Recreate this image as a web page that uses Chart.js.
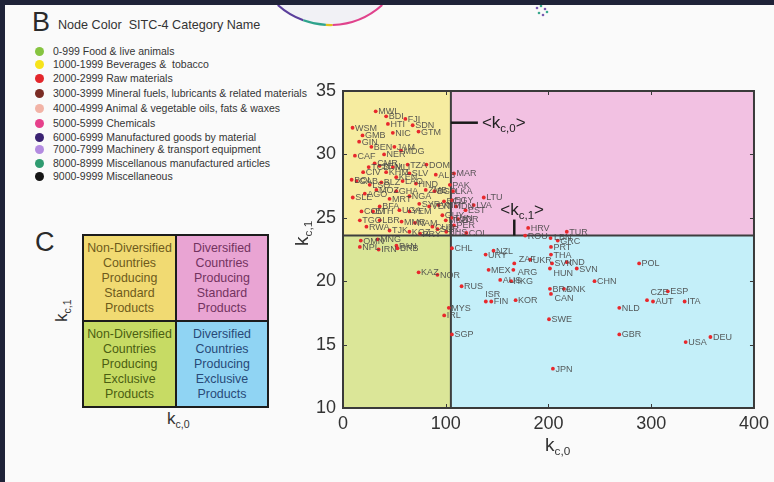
<!DOCTYPE html>
<html>
<head>
<meta charset="utf-8">
<script src="https://cdn.jsdelivr.net/npm/chart.js@4.4.1/dist/chart.umd.min.js"></script>
<style>
  html, body { margin: 0; padding: 0; background: #fafafa; overflow: hidden; }
  #page { position: relative; width: 774px; height: 482px; overflow: hidden; background: #fafafa;
          font-family: "Liberation Sans", Arial, Helvetica, sans-serif; color: #333; }
  #chart { position: absolute; left: 0; top: 0; }
  .bandTop { position: absolute; left: 0; top: 0; width: 774px; height: 5px; background: #1f2338; }
  .bandLeft { position: absolute; left: 0; top: 0; width: 5px; height: 482px; background: #1f2338; }
  .panelLetter { position: absolute; font-size: 27px; line-height: 27px; color: #2a2a2a; }
  .legHead { position: absolute; left: 58px; top: 19px; font-size: 12.6px; line-height: 13px; color: #333; }
  .legRow { position: absolute; left: 35px; height: 12px; }
  .legRow i { position: absolute; left: 0; top: 2px; width: 9px; height: 9px; border-radius: 50%; }
  .legRow span { position: absolute; left: 18px; top: 0px; white-space: nowrap; font-size: 10.5px; line-height: 12px; color: #353535; }
  #quad { position: absolute; left: 82px; top: 234px; width: 187px; height: 174px; background: #1c1c1c; }
  #quad div { position: absolute; display: flex; align-items: center; justify-content: center;
              text-align: center; font-size: 12.4px; line-height: 15px; }
  .ax { position: absolute; white-space: nowrap; color: #333; }
  .ax sub { font-size: 0.62em; vertical-align: -0.35em; line-height: 0; }
</style>
</head>
<body>
<div id="page">
  <!-- network ring peeking in from the figure above -->
  <svg style="position:absolute;left:0;top:0" width="774" height="40">
    <circle cx="330" cy="-53" r="78" fill="#f1f1f5"/>
    <g fill="none" stroke-width="2.2">
      <path d="M277.8,5 A78,78 0 0 0 303.3,20.3" stroke="#5b3f9c"/>
      <path d="M303.3,20.3 A78,78 0 0 0 325.9,24.9" stroke="#2ea38c"/>
      <path d="M325.9,24.9 A78,78 0 0 0 332.7,25" stroke="#e2c21e"/>
      <path d="M332.7,25 A78,78 0 0 0 382.2,5" stroke="#e0428c"/>
    </g>
    <g>
      <circle cx="537" cy="8" r="1.3" fill="#7a5ab0"/>
      <circle cx="541" cy="6" r="1.3" fill="#3aa88e"/>
      <circle cx="545" cy="9" r="1.3" fill="#7a5ab0"/>
      <circle cx="539" cy="13" r="1.3" fill="#3aa88e"/>
      <circle cx="543" cy="15" r="1.3" fill="#7a5ab0"/>
      <circle cx="547" cy="12" r="1.3" fill="#3aa88e"/>
    </g>
  </svg>
  <div class="bandTop"></div>
  <div class="bandLeft"></div>

  <!-- panel B: product category colours -->
  <div class="panelLetter" style="left:32px;top:9px;">B</div>
  <div class="legHead">Node Color&nbsp; SITC-4 Category Name</div>
  <div id="legend"></div>

  <!-- panel C: quadrant key -->
  <div class="panelLetter" style="left:35px;top:229px;">C</div>
  <div id="quad">
    <div style="left:2px;top:2px;width:91px;height:84px;background:#f1da72;color:#6e5a1c;">Non-Diversified<br>Countries<br>Producing<br>Standard<br>Products</div>
    <div style="left:95px;top:2px;width:90px;height:84px;background:#e9a4d3;color:#73335f;">Diversified<br>Countries<br>Producing<br>Standard<br>Products</div>
    <div style="left:2px;top:88px;width:91px;height:84px;background:#c7db64;color:#4b5e12;">Non-Diversified<br>Countries<br>Producing<br>Exclusive<br>Products</div>
    <div style="left:95px;top:88px;width:90px;height:84px;background:#90d4f3;color:#284a78;">Diversified<br>Countries<br>Producing<br>Exclusive<br>Products</div>
  </div>
  <div class="ax" style="left:167px;top:409px;font-size:17px;">k<sub>c,0</sub></div>
  <div class="ax" style="left:52px;top:322px;font-size:17px;transform:rotate(-90deg);transform-origin:left top;">k<sub>c,1</sub></div>

  <canvas id="chart" width="774" height="482"></canvas>

  <!-- axis titles of the scatter -->
  <div class="ax" style="left:545px;top:434px;font-size:19px;">k<sub>c,0</sub></div>
  <div class="ax" style="left:291px;top:246px;font-size:19px;transform:rotate(-90deg);transform-origin:left top;">k<sub>c,1</sub></div>
</div>

<script>
// SITC-4 product groups shown in the colour key
const sitcLabels = [
  "0-999 Food & live animals",
  "1000-1999 Beverages &  tobacco",
  "2000-2999 Raw materials",
  "3000-3999 Mineral fuels, lubricants & related materials",
  "4000-4999 Animal & vegetable oils, fats & waxes",
  "5000-5999 Chemicals",
  "6000-6999 Manufactured goods by material",
  "7000-7999 Machinery & transport equipment",
  "8000-8999 Miscellanous manufactured articles",
  "9000-9999 Miscellaneous"
];
const sitcColors = ["#86c440", "#f6e31a", "#e3262b", "#7a2c24", "#f2b3a6",
                    "#e6408b", "#3a2272", "#b38be0", "#2f9b70", "#151515"];

// countries: diversification k_c,0 and average ubiquity k_c,1
const countries = [
  "CHL","MYS","IRL","SGP","KAZ","NOR","RUS","URY","NZL","MEX","AUS","HKG","ZAF","ARG","UKR",
  "ISR","FIN","KOR","LBN","GRC","PRT","THA","SVK","IND","HUN","SVN","BRA","DNK","CAN","SWE",
  "JPN","CHN","POL","NLD","GBR","CZE","ESP","AUT","ITA","USA","DEU",
  "HRV","ROU","TUR","MAR","PAK","LKA","EGY","IDN","EST","LVA","LTU","TUN","JOR","PER","COL","MKD",
  "MWI","FJI","HTI","SDN","NIC","GTM","WSM","GMB","GIN","BEN","JAM","MDG","CAF","CMR","SEN","MLI",
  "TZA","DOM","ALB","CIV","BOL","GAB","BLZ","KEN","SLV","HND","ZMB","ECU","GUY","AGO","MOZ","GHA",
  "MRT","NGA","SYR","BFA","UGA","VEN","ETH","YEM","LBR","RWA","TJK","KGZ","CUB","PRY","TGO","NER",
  "TCD","LAO","KHM","BGD","VNM","MMR","LSO","SLE","COM","NAM","SUR","BHS","BDI",
  "OMN","MNG","PAN","NPL","IRN","BRB"
];
const kc0 = [
  106, 103, 98.5, 106, 73.6, 91.9, 115.4, 138.8, 146.5, 141.7, 153, 163.6, 166.7, 165.8, 182.2,
  139, 144.3, 168, 202, 209, 202.4, 202.4, 203.4, 217.8, 201.4, 227.5, 201.4, 215, 202.4, 200.5,
  204.3, 244.8, 288.2, 268.9, 268.9, 295.9, 316.1, 301.7, 332.5, 333.5, 357.6,
  180.2, 177.3, 217.8, 108, 104, 107, 106, 110, 119.2, 127.2, 137, 105.5, 112, 108, 120, 100,
  31.8, 60.7, 43.7, 67.8, 48.5, 73.5, 9.3, 19, 15.7, 27.6, 50, 56.5, 11.6, 30.8, 35.6, 48.5,
  62.9, 81.2, 90.3, 19.6, 8.4, 13.2, 37.3, 51.8, 64.6, 71, 80.5, 98.3, 96.7, 21.2, 32.5, 51.8,
  45.3, 64.6, 74.2, 35.7, 54.9, 83.9, 29.2, 64.6, 35.7, 22.8, 45.3, 64.6, 87, 75, 16.4, 40,
  25, 58, 42, 89, 93, 57, 26, 9.5, 18, 70, 92, 100.5, 42,
  17.3, 33.7, 52, 16.4, 34.7, 53
];
const kc1 = [
  22.6, 17.9, 17.3, 15.8, 20.7, 20.5, 19.6, 22.1, 22.4, 20.9, 20.1, 20.0, 21.4, 20.9, 21.7,
  18.4, 18.4, 18.5, 23.4, 23.2, 22.7, 22.1, 21.4, 21.5, 21.0, 21.0, 19.4, 19.4, 19.0, 17.0,
  13.1, 20.0, 21.4, 17.9, 15.8, 18.5, 19.2, 18.4, 18.4, 15.2, 15.6,
  24.2, 23.6, 23.9, 28.5, 27.6, 27.1, 26.4, 25.9, 25.6, 26.0, 26.6, 25.0, 24.9, 24.4, 23.8, 24.8,
  33.4, 32.8, 32.4, 32.3, 31.7, 31.8, 32.1, 31.5, 31.0, 30.6, 30.6, 30.3, 29.9, 29.3, 29.1, 29.0,
  29.2, 29.2, 28.4, 28.6, 28.0, 27.9, 27.8, 28.2, 28.5, 27.7, 27.2, 26.3, 25.2, 26.9, 27.2, 27.1,
  26.5, 26.7, 26.1, 25.9, 25.6, 25.9, 25.5, 25.5, 24.8, 24.3, 24.0, 23.9, 24.3, 23.75, 24.8, 30.0,
  29.0, 27.9, 28.6, 27.1, 26.0, 24.7, 27.6, 26.6, 25.5, 24.6, 24.1, 23.9, 33.0,
  23.2, 23.3, 22.8, 22.7, 22.5, 22.6
];

// axis ticks and the averages that split the plane into four quadrants
const xTicks = [0, 100, 200, 300, 400];
const yTicks = [10, 15, 20, 25, 30, 35];
const meanKc0 = 105;
const meanKc1 = 23.6;

// label placement tweaks for crowded spots (pixels)
const labelShift = { CZE: [1, -8], ISR: [-3, -7], ZAF: [2, -4], ARG: [2, 2], HUN: [1, 4], CAN: [1, 4], LBN: [1, -1] };

// ----- colour key rows -----
const legend = document.getElementById('legend');
const rowY = [45, 58, 72, 87, 102, 117, 131, 143, 157, 170];
sitcLabels.forEach((t, i) => {
  const r = document.createElement('div');
  r.className = 'legRow';
  r.style.top = rowY[i] + 'px';
  r.innerHTML = '<i style="background:' + sitcColors[i] + '"></i><span>' + t.replace(/&/g, '&amp;').replace(/  /g, ' &nbsp;') + '</span>';
  legend.appendChild(r);
});

// ----- scatter -----
const FONT = '"Liberation Sans", Arial, Helvetica, sans-serif';

function subText(ctx, x, y, parts) {
  // parts: [text, size, dy]
  let cx = x;
  parts.forEach(([t, size, dy]) => {
    ctx.font = size + 'px ' + FONT;
    ctx.fillText(t, cx, y + dy);
    cx += ctx.measureText(t).width;
  });
}

const quadrantPlugin = {
  id: 'quadrants',
  beforeDatasetsDraw(chart) {
    const { ctx, chartArea: a, scales: { x, y } } = chart;
    const mx = x.getPixelForValue(meanKc0);
    const my = y.getPixelForValue(meanKc1);
    ctx.save();
    ctx.fillStyle = '#f6eca0'; ctx.fillRect(a.left, a.top, mx - a.left, my - a.top);
    ctx.fillStyle = '#f2c1e2'; ctx.fillRect(mx, a.top, a.right - mx, my - a.top);
    ctx.fillStyle = '#dbe698'; ctx.fillRect(a.left, my, mx - a.left, a.bottom - my);
    ctx.fillStyle = '#c4eff9'; ctx.fillRect(mx, my, a.right - mx, a.bottom - my);
    ctx.strokeStyle = '#3e3e3e';
    ctx.lineWidth = 2;
    ctx.beginPath();
    ctx.moveTo(mx, a.top); ctx.lineTo(mx, a.bottom);
    ctx.moveTo(a.left, my); ctx.lineTo(a.right, my);
    ctx.stroke();
    ctx.restore();
  },
  afterDatasetsDraw(chart) {
    const { ctx, chartArea: a, scales: { x, y } } = chart;
    const meta = chart.getDatasetMeta(0);
    ctx.save();
    // country codes
    ctx.font = '9px ' + FONT;
    ctx.fillStyle = 'rgba(70,70,70,0.88)';
    ctx.textBaseline = 'middle';
    meta.data.forEach((pt, i) => {
      const s = labelShift[countries[i]] || [0, 0];
      ctx.fillText(countries[i], pt.x + 2.5 + s[0], pt.y + 0.5 + s[1]);
    });

    // frame
    ctx.strokeStyle = '#3a3a3a';
    ctx.lineWidth = 2;
    ctx.strokeRect(a.left, a.top, a.right - a.left, a.bottom - a.top);
    // inward tick marks on all four sides
    ctx.lineWidth = 1;
    ctx.beginPath();
    xTicks.slice(1, -1).forEach(v => {
      const px = Math.round(x.getPixelForValue(v)) + 0.5;
      ctx.moveTo(px, a.bottom); ctx.lineTo(px, a.bottom - 4);
      ctx.moveTo(px, a.top); ctx.lineTo(px, a.top + 4);
    });
    yTicks.slice(1, -1).forEach(v => {
      const py = Math.round(y.getPixelForValue(v)) + 0.5;
      ctx.moveTo(a.left, py); ctx.lineTo(a.left + 4, py);
      ctx.moveTo(a.right, py); ctx.lineTo(a.right - 4, py);
    });
    ctx.stroke();

    // markers for the two averages
    const mx = x.getPixelForValue(meanKc0);
    const my = y.getPixelForValue(meanKc1);
    ctx.strokeStyle = '#1a1a1a';
    ctx.lineWidth = 2.5;
    const yk0 = y.getPixelForValue(32.5);
    ctx.beginPath(); ctx.moveTo(mx, yk0); ctx.lineTo(mx + 27, yk0); ctx.stroke();
    const xk1 = x.getPixelForValue(166.7);
    ctx.beginPath(); ctx.moveTo(xk1, my); ctx.lineTo(xk1, my - 16); ctx.stroke();

    ctx.fillStyle = '#222';
    ctx.textBaseline = 'alphabetic';
    subText(ctx, mx + 31, yk0 + 5, [['<k', 17, 0], ['c,0', 11.5, 4], ['>', 17, 0]]);
    subText(ctx, xk1 - 14, my - 21, [['<k', 17, 0], ['c,1', 11.5, 4], ['>', 17, 0]]);
    ctx.restore();
  }
};

new Chart(document.getElementById('chart'), {
  type: 'scatter',
  data: {
    datasets: [{
      data: countries.map((c, i) => ({ x: kc0[i], y: kc1[i] })),
      pointRadius: 1.9,
      pointBackgroundColor: '#e8282c',
      pointBorderWidth: 0
    }]
  },
  options: {
    responsive: false,
    animation: false,
    devicePixelRatio: 1,
    layout: { padding: { left: 280, top: 91, right: 16, bottom: 10 } },
    plugins: { legend: { display: false }, tooltip: { enabled: false } },
    scales: {
      x: {
        type: 'linear', min: 0, max: 400,
        afterBuildTicks: s => { s.ticks = xTicks.map(v => ({ value: v })); },
        afterFit: s => { s.height = 64; },
        grid: { display: false, drawTicks: false },
        border: { display: false },
        ticks: { color: '#333', padding: 5, maxRotation: 0, font: { family: FONT, size: 18 } }
      },
      y: {
        type: 'linear', min: 10, max: 35,
        afterBuildTicks: s => { s.ticks = yTicks.map(v => ({ value: v })); },
        afterFit: s => { s.width = 63; },
        grid: { display: false, drawTicks: false },
        border: { display: false },
        ticks: { color: '#333', padding: 7, font: { family: FONT, size: 18 } }
      }
    }
  },
  plugins: [quadrantPlugin]
});
</script>
</body>
</html>
